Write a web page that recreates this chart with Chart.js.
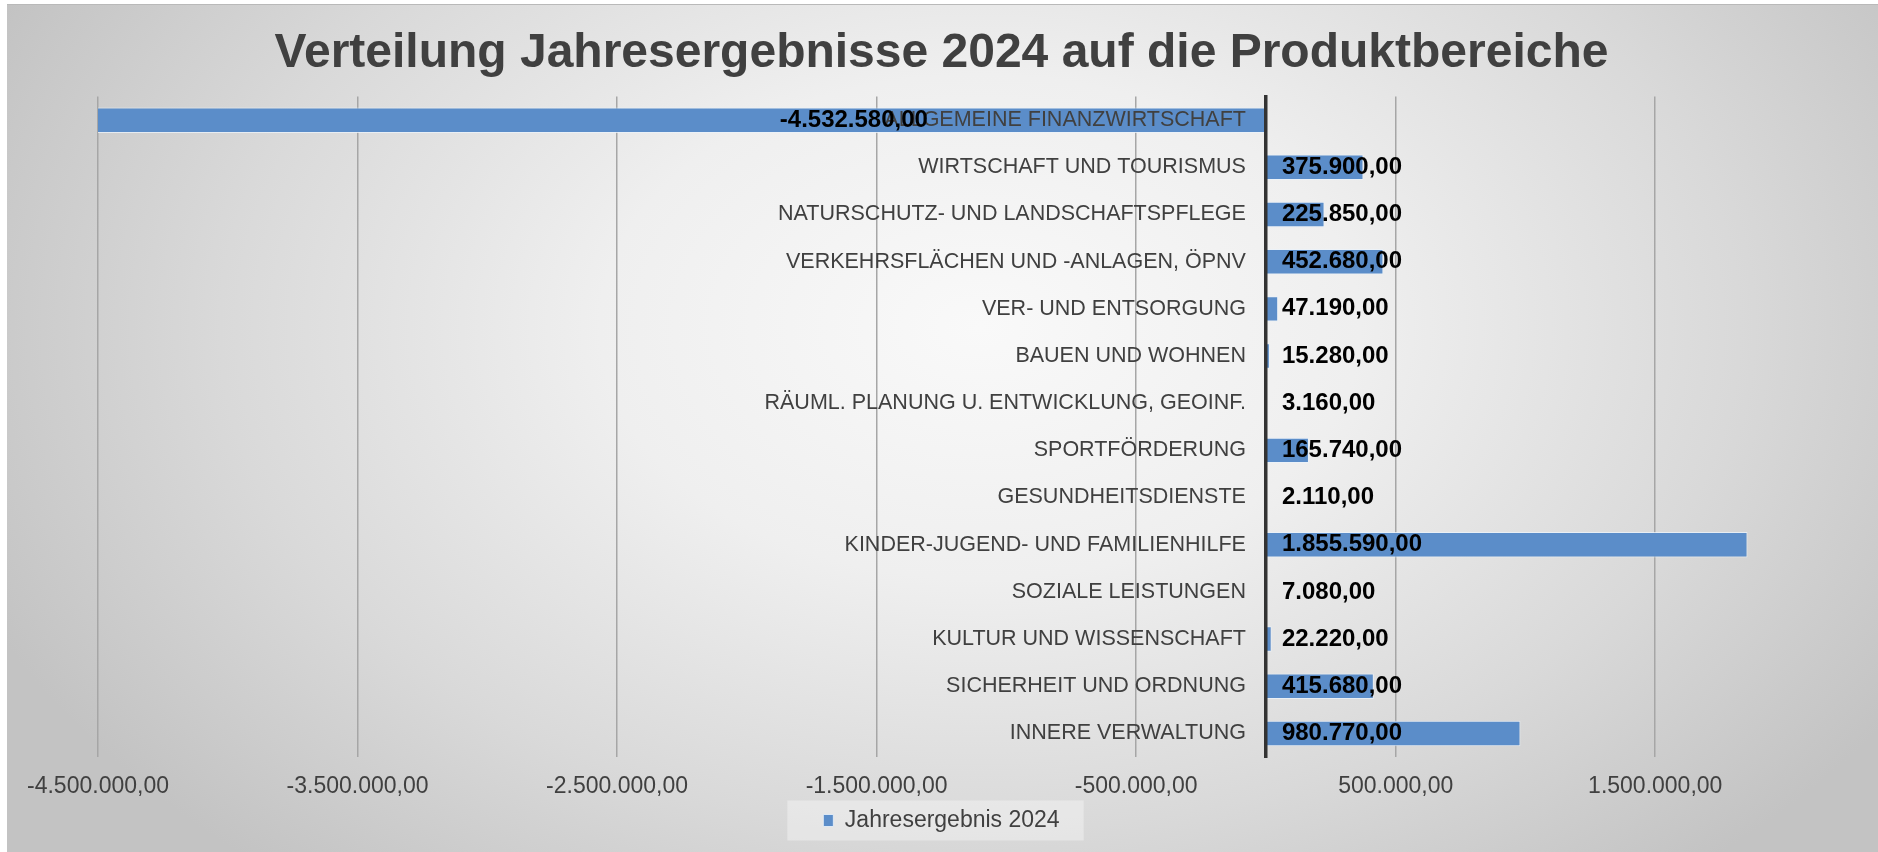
<!DOCTYPE html>
<html lang="de">
<head>
<meta charset="utf-8">
<title>Verteilung Jahresergebnisse 2024</title>
<script src="https://cdn.jsdelivr.net/npm/chart.js@4.4.1/dist/chart.umd.min.js"></script>
<style>
  html, body { margin: 0; padding: 0; background: #fff; }
  body { width: 1878px; height: 852px; position: relative; overflow: hidden; }
  #bg {
    position: absolute; left: 7px; top: 4px; right: 0; bottom: 0;
    border-top: 1px solid #b9b9b9;
    background: radial-gradient(ellipse 58% 85% at 52% 38%, #f9f9f9 0%, #efefef 35%, #d9d9d9 70%, #c3c3c3 100%);
  }
  #chart { position: absolute; left: 0; top: 0; }
</style>
</head>
<body>
<div id="bg"></div>
<canvas id="chart" width="1878" height="852"></canvas>
<script>
// ---------- data (top to bottom) ----------
const TITLE = 'Verteilung Jahresergebnisse 2024 auf die Produktbereiche';
const SERIES_LABEL = 'Jahresergebnis 2024';

const CATEGORIES = [
  'ALLGEMEINE FINANZWIRTSCHAFT',
  'WIRTSCHAFT UND TOURISMUS',
  'NATURSCHUTZ- UND LANDSCHAFTSPFLEGE',
  'VERKEHRSFLÄCHEN UND -ANLAGEN, ÖPNV',
  'VER- UND ENTSORGUNG',
  'BAUEN UND WOHNEN',
  'RÄUML. PLANUNG U. ENTWICKLUNG, GEOINF.',
  'SPORTFÖRDERUNG',
  'GESUNDHEITSDIENSTE',
  'KINDER-JUGEND- UND FAMILIENHILFE',
  'SOZIALE LEISTUNGEN',
  'KULTUR UND WISSENSCHAFT',
  'SICHERHEIT UND ORDNUNG',
  'INNERE VERWALTUNG',
];

const VALUES = [
  -4532580, 375900, 225850, 452680, 47190, 15280, 3160,
  165740, 2110, 1855590, 7080, 22220, 415680, 980770,
];

const X_TICKS = [-4500000, -3500000, -2500000, -1500000, -500000, 500000, 1500000];
const X_MIN = -4500000;
const X_MAX = 2000000;

// ---------- style ----------
const FONT = '"Liberation Sans", Arial, sans-serif';
const TEXT = '#404040';
const BAR = '#5b8dc9';

// German number format: 1.234.567,00
function fmt(v) {
  const parts = Math.abs(v).toFixed(2).split('.');
  const int = parts[0].replace(/\B(?=(\d{3})+(?!\d))/g, '.');
  return (v < 0 ? '-' : '') + int + ',' + parts[1];
}

// light box behind the legend
const legendBox = {
  id: 'legendBox',
  beforeDraw(chart) {
    const hb = chart.legend && chart.legend.legendHitBoxes && chart.legend.legendHitBoxes[0];
    if (!hb) return;
    const cy = hb.top + hb.height / 2;
    const ctx = chart.ctx;
    ctx.save();
    ctx.fillStyle = 'rgba(255,255,255,0.35)';
    ctx.fillRect(hb.left - 36, cy - 20, hb.width + 60, 40);
    ctx.restore();
  }
};

// category names next to the zero line + value labels
const barLabels = {
  id: 'barLabels',
  afterDatasetsDraw(chart) {
    const { ctx, scales: { x, y } } = chart;
    const x0 = x.getPixelForValue(0);
    ctx.save();
    ctx.textBaseline = 'middle';

    ctx.font = '21.5px ' + FONT;
    ctx.fillStyle = TEXT;
    ctx.textAlign = 'right';
    CATEGORIES.forEach((c, i) => ctx.fillText(c, x0 - 20, y.getPixelForValue(i)));

    ctx.font = 'bold 24px ' + FONT;
    ctx.fillStyle = '#000';
    VALUES.forEach((v, i) => {
      const py = y.getPixelForValue(i);
      if (v >= 0) {
        ctx.textAlign = 'left';
        ctx.fillText(fmt(v), x0 + 16, py);
      } else {
        ctx.textAlign = 'right';
        ctx.fillText(fmt(v), x0 - 338, py);
      }
    });
    ctx.restore();
  }
};

new Chart(document.getElementById('chart'), {
  type: 'bar',
  data: {
    labels: CATEGORIES,
    datasets: [{
      label: SERIES_LABEL,
      data: VALUES,
      backgroundColor: BAR,
      borderColor: 'rgba(235,242,250,0.8)',
      borderWidth: 1,
      barPercentage: 0.54,
      categoryPercentage: 1,
    }]
  },
  options: {
    indexAxis: 'y',
    responsive: false,
    animation: false,
    events: [],
    layout: { padding: { left: 98, right: 93, top: 0, bottom: 10 } },
    plugins: {
      title: {
        display: true,
        text: TITLE,
        color: TEXT,
        font: { family: FONT, size: 48, weight: 'bold' },
        padding: { top: 25, bottom: 14 },
      },
      legend: {
        position: 'bottom',
        labels: { color: TEXT, font: { family: FONT, size: 23 }, boxWidth: 10, boxHeight: 12, padding: 7 },
      },
      tooltip: { enabled: false },
    },
    scales: {
      x: {
        type: 'linear',
        min: X_MIN,
        max: X_MAX,
        afterBuildTicks: (s) => { s.ticks = X_TICKS.map(v => ({ value: v })); },
        afterFit: (s) => { s.height = 45; },
        ticks: {
          callback: (v) => fmt(v),
          color: TEXT,
          font: { family: FONT, size: 23 },
          padding: 16,
          maxRotation: 0,
          autoSkip: false,
        },
        grid: { color: '#a6a6a6', lineWidth: 1.5, drawTicks: false },
        border: { display: false },
      },
      y: {
        position: { x: 0 },
        ticks: { display: false },
        grid: { display: false },
        border: { color: '#333333', width: 3.5, z: 1 },
      },
    },
  },
  plugins: [legendBox, barLabels],
});
</script>
</body>
</html>
